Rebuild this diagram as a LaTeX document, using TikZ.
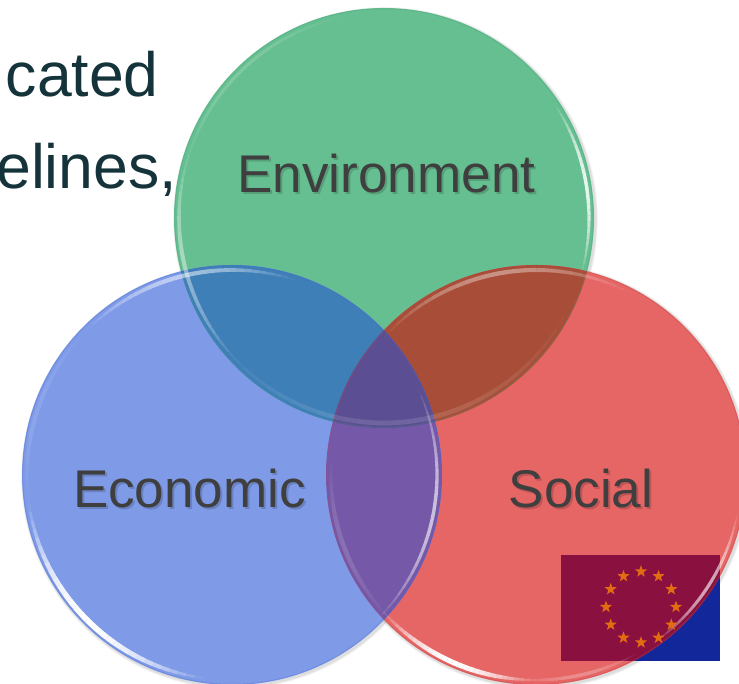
\documentclass[tikz,border=0pt]{standalone}
\usepackage{fontspec}
\setmainfont{Liberation Sans}
\usetikzlibrary{shapes.geometric}
\definecolor{cGreen}{HTML}{66BF91}
\definecolor{cBlue}{HTML}{7F9BE8}
\definecolor{cRed}{HTML}{E66666}
\definecolor{cGB}{HTML}{3F7FB8}
\definecolor{cGR}{HTML}{A84E38}
\definecolor{cBR}{HTML}{7658A8}
\definecolor{cAll}{HTML}{5B4E92}
\definecolor{cFlagB}{HTML}{12279A}
\definecolor{cFlagR}{HTML}{8A1040}
\definecolor{cStar}{HTML}{E26C12}
\definecolor{cBody}{HTML}{15333A}
\definecolor{cLabel}{HTML}{3F3F3F}
\definecolor{cEdgeG}{HTML}{3F9F75}
\definecolor{cEdgeB}{HTML}{4A68C8}
\definecolor{cEdgeR}{HTML}{B84848}
\tikzset{
  bodytext/.style={anchor=base west,inner sep=0pt,text=cBody,font=\fontsize{46.9pt}{50pt}\selectfont},
  vennlabel/.style={anchor=base,inner sep=0pt,text=cLabel,font=\fontsize{39.8pt}{44pt}\selectfont},
  vennshadow/.style={vennlabel,text=black,text opacity=0.16},
  eustar/.style={star,star points=5,star point ratio=2.5,fill=cStar,draw=none,inner sep=0pt,minimum size=9.6pt},
  rimedge/.style={line width=0.6pt,draw opacity=0.3}
}
% cx, cy, start, end, colour, peak opacity, peak width: a tapering crescent inside the rim
\newcommand{\crescent}[7]{%
  \foreach \k in {1,...,30}{%
    \pgfmathsetmacro\aS{#3+(#4-#3)*(\k-1)/30}%
    \pgfmathsetmacro\aE{#3+(#4-#3)*\k/30}%
    \pgfmathsetmacro\sn{sin(180*(\k-0.5)/30)}%
    \pgfmathsetmacro\op{#6*\sn}%
    \pgfmathsetmacro\wd{#7*(0.35+0.65*\sn)}%
    \draw[draw=#5,draw opacity=\op,line width=\wd pt] ({#1+205*cos(\aS)},{#2+205*sin(\aS)}) arc[start angle=\aS,end angle=\aE,radius=153.75pt];
  }%
}
\begin{document}
\begin{tikzpicture}[x=0.75pt,y=0.75pt]
\useasboundingbox (0,0) rectangle (739,684);
\clip (0,0) rectangle (739,684);
\fill[white] (0,0) rectangle (739,684);
\def\GC{(384,466) circle[radius=157.5pt]}
\def\BC{(232,209) circle[radius=157.5pt]}
\def\RC{(536,209) circle[radius=157.5pt]}
% text behind the circles
\node[bodytext] (cated) at (5.5,587) {cated};
\node[bodytext] (elines) at (-4,495) {elines,};
% soft outer shadows
\foreach \o in {1,2,3}{\fill[black,opacity=0.045] (385.5,464.5) circle[radius={157.5pt+\o*0.6pt}];}
\foreach \o in {1,2,3}{\fill[black,opacity=0.045] (233.5,207.5) circle[radius={157.5pt+\o*0.6pt}];}
\foreach \o in {1,2,3}{\fill[black,opacity=0.045] (537.5,207.5) circle[radius={157.5pt+\o*0.6pt}];}
% flag part outside the red circle
\fill[cFlagB] (561,23) rectangle (720,129);
% circles
\fill[cGreen] \GC;
\fill[cRed] \RC;
\fill[cBlue] \BC;
% flag seen through the red circle
\begin{scope}
  \clip \RC;
  \fill[cFlagR] (561,23) rectangle (720,129);
\end{scope}
% overlaps
\begin{scope}\clip \GC; \fill[cGB] \BC; \fill[cGR] \RC; \end{scope}
\begin{scope}\clip \BC; \fill[cBR] \RC; \end{scope}
\begin{scope}\clip \GC; \clip \BC; \fill[cAll] \RC; \end{scope}
% thin darker rim edges
\draw[rimedge,draw=cEdgeG] (384,466) circle[radius=156.9pt];
\draw[rimedge,draw=cEdgeB] (232,209) circle[radius=156.9pt];
\draw[rimedge,draw=cEdgeR] (536,209) circle[radius=156.9pt];
% crescents, green
\crescent{384}{466}{100}{170}{white}{0.16}{2.4}
\crescent{384}{466}{160}{225}{white}{0.42}{3.0}
\crescent{384}{466}{-16}{34}{white}{0.85}{2.6}
\crescent{384}{466}{215}{335}{white}{0.13}{3.6}
% crescents, blue
\crescent{232}{209}{188}{262}{white}{1.0}{4.2}
\crescent{232}{209}{-45}{25}{white}{0.62}{2.6}
\crescent{232}{209}{72}{135}{white}{0.5}{3.2}
\crescent{232}{209}{135}{190}{white}{0.10}{3.0}
% crescents, red
\crescent{536}{209}{222}{270}{white}{1.0}{3.8}
\crescent{536}{209}{265}{300}{white}{0.25}{2.6}
\crescent{536}{209}{-55}{-10}{white}{0.62}{2.4}
\crescent{536}{209}{62}{138}{white}{0.38}{3.2}
\crescent{536}{209}{175}{225}{white}{0.14}{3.4}
% flag stars
\foreach \i in {0,...,11}{
  \node[eustar] (star\i) at ({641+35*cos(90-30*\i)},{77+35.5*sin(90-30*\i)}) {};
}
% labels with a soft shadow
\node[vennshadow] (envs) at (388.5,489) {Environment};
\node[vennshadow] (ecos) at (191.5,174) {Economic};
\node[vennshadow] (socs) at (583,174) {Social};
\node[vennlabel] (env) at (386.5,491) {Environment};
\node[vennlabel] (eco) at (189.5,176) {Economic};
\node[vennlabel] (soc) at (581,176) {Social};
\end{tikzpicture}
\end{document}
